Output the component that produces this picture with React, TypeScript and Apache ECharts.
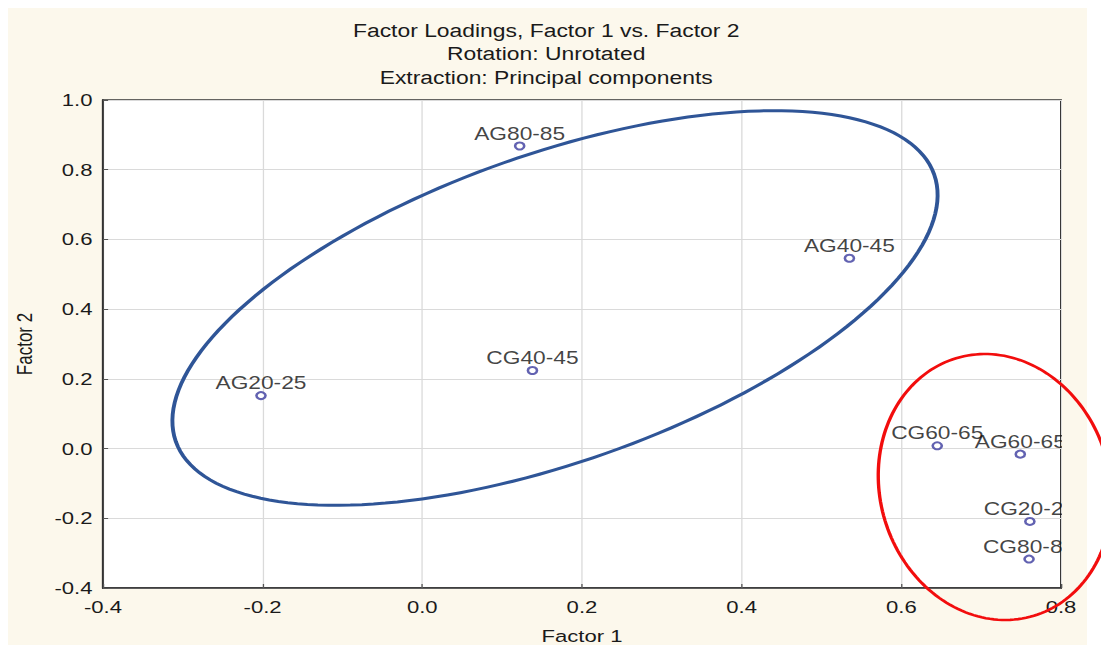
import React, { useEffect, useRef } from "react";
import * as echarts from "echarts";

// Factor loadings (Factor 1, Factor 2) per variable
const variables = ["AG80-85", "AG40-45", "CG40-45", "AG20-25", "CG60-65", "AG60-65", "CG20-25", "CG80-85"];
const factor1 = [0.122, 0.535, 0.138, -0.202, 0.645, 0.749, 0.761, 0.76];
const factor2 = [0.868, 0.546, 0.224, 0.152, 0.008, -0.016, -0.209, -0.317];

const titleLines = ["Factor Loadings, Factor 1 vs. Factor 2", "Rotation: Unrotated", "Extraction: Principal components"];
const xName = "Factor 1";
const yName = "Factor 2";

// The drawing is rendered narrow and widened horizontally by this factor.
const STRETCH = 1.3;
const OUTER_W = 1101;
const OUTER_H = 643;
const W0 = OUTER_W / STRETCH;

const CREAM = "#fcf8ec";
const FONT = "'Liberation Sans', Arial, sans-serif";

// Grouping rings, given in widened (on-screen) pixels: centre, semi-axes, tilt in degrees.
const blueRing = { cx: 547, cy: 300, a: 402, b: 154, tilt: -19.4 };
const redRing = { cx: 987, cy: 479, a: 115, b: 134.5, tilt: -16.8 };

function ringPoints(r: { cx: number; cy: number; a: number; b: number; tilt: number }) {
  const th = (r.tilt * Math.PI) / 180;
  const pts: number[][] = [];
  const n = 180;
  for (let i = 0; i < n; i++) {
    const t = (i / n) * Math.PI * 2;
    const vx = r.cx + r.a * Math.cos(t) * Math.cos(th) - r.b * Math.sin(t) * Math.sin(th);
    const vy = r.cy + r.a * Math.cos(t) * Math.sin(th) + r.b * Math.sin(t) * Math.cos(th);
    pts.push([vx / STRETCH, vy]);
  }
  return pts;
}

const fmt = (v: number) => (Math.abs(v) < 1e-9 ? "0.0" : v.toFixed(1));

export default function App() {
  const ref = useRef<HTMLDivElement>(null);

  useEffect(() => {
    if (!ref.current) return;
    const chart = echarts.init(ref.current, null, { renderer: "svg" });

    const gridLeft = 73;
    const gridRight = 37;
    const gridTop = 92;
    const gridBottom = 63;
    const plotRight = W0 - gridRight;

    chart.setOption({
      animation: false,
      title: {
        text: titleLines.join("\n"),
        left: 414,
        top: 11,
        padding: 0,
        textAlign: "center",
        textStyle: {
          fontFamily: FONT,
          fontSize: 17.6,
          fontWeight: "normal",
          color: "#1a1a1a",
          lineHeight: 23.5,
        },
      },
      grid: {
        left: gridLeft,
        right: gridRight,
        top: gridTop,
        bottom: gridBottom,
        outerBoundsMode: "none",
        containLabel: false,
        show: true,
        backgroundColor: "#ffffff",
        borderColor: "#333333",
        borderWidth: 1.5,
      },
      xAxis: {
        type: "value",
        min: -0.4,
        max: 0.8,
        interval: 0.2,
        name: xName,
        nameLocation: "middle",
        nameGap: 39,
        nameTextStyle: { fontFamily: FONT, fontSize: 17, color: "#1a1a1a" },
        axisLine: { show: true, onZero: false, lineStyle: { color: "#333333", width: 1.5 } },
        axisTick: { show: true, inside: true, length: 4, lineStyle: { color: "#555555" } },
        axisLabel: { formatter: fmt, margin: 10, fontFamily: FONT, fontSize: 17, color: "#1a1a1a" },
        splitLine: { show: true, lineStyle: { color: "#dadada", width: 1 } },
      },
      yAxis: {
        type: "value",
        min: -0.4,
        max: 1.0,
        interval: 0.2,
        name: yName,
        nameLocation: "middle",
        nameGap: 52,
        nameRotate: 90,
        nameTextStyle: { fontFamily: FONT, fontSize: 17, color: "#1a1a1a" },
        axisLine: { show: true, onZero: false, lineStyle: { color: "#333333", width: 1.5 } },
        axisTick: { show: true, inside: true, length: 4, lineStyle: { color: "#555555" } },
        axisLabel: { formatter: fmt, margin: 8, fontFamily: FONT, fontSize: 17, color: "#1a1a1a" },
        splitLine: { show: true, lineStyle: { color: "#dadada", width: 1 } },
      },
      series: [
        {
          type: "scatter",
          data: variables.map((name, i) => ({ name, value: [factor1[i], factor2[i]] })),
          symbol: "emptyCircle",
          symbolSize: 7,
          itemStyle: { color: "#3b3b9e", borderColor: "#3b3b9e", borderWidth: 1.3 },
          label: {
            show: true,
            position: "top",
            distance: -1,
            formatter: (p: any) => p.name,
            fontFamily: FONT,
            fontSize: 17.5,
            color: "#111111",
          },
        },
      ],
      graphic: [
        {
          type: "rect",
          z: -10,
          silent: true,
          shape: { x: 0, y: 0, width: 1079 / STRETCH, height: 637 },
          style: { fill: CREAM },
        },
        {
          // hides label text running past the right frame
          type: "rect",
          z: 100,
          silent: true,
          shape: { x: plotRight + 0.8, y: gridTop - 2, width: 1079 / STRETCH - plotRight - 0.8, height: 637 - gridTop - gridBottom + 4 },
          style: { fill: CREAM },
        },
        {
          type: "polygon",
          z: 110,
          silent: true,
          shape: { points: ringPoints(blueRing) },
          style: { fill: "none", stroke: "#2f5597", lineWidth: 3 },
        },
        {
          type: "polygon",
          z: 110,
          silent: true,
          shape: { points: ringPoints(redRing) },
          style: { fill: "none", stroke: "#f20d0d", lineWidth: 2.6 },
        },
      ],
    });

    return () => chart.dispose();
  }, []);

  return (
    <div
      ref={ref}
      style={{
        width: `${W0}px`,
        height: `${OUTER_H}px`,
        transform: `scaleX(${STRETCH})`,
        transformOrigin: "0 0",
      }}
    />
  );
}
